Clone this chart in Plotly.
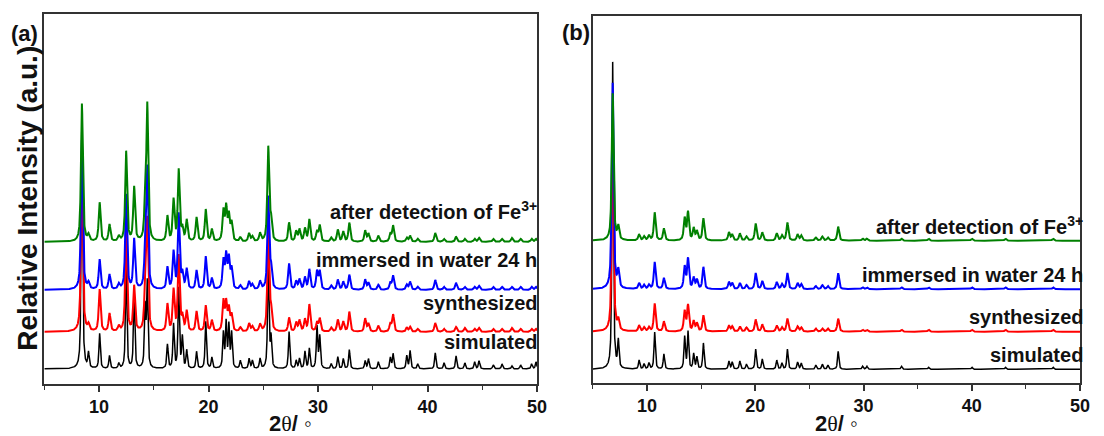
import numpy as np
import plotly.graph_objects as go

# ---------------- data ----------------
# Panel (a): peak positions (2theta, deg) and heights (relative units) of each pattern
pos_a = [8.43, 9.03, 10.05, 10.95, 11.8, 12.47, 13.2, 14.2, 14.4, 16.24, 16.8, 17.27, 17.6, 18.0,
         18.9, 19.74, 20.3, 21.35, 21.6, 21.85, 22.1, 22.9, 23.7, 24.0, 24.7, 25.45, 25.7, 27.35,
         28.0, 28.3, 28.8, 29.2, 29.9, 30.15, 31.2, 31.8, 32.3, 32.85, 34.3, 34.6, 35.5, 36.6,
         36.85, 38.1, 38.4, 39.1, 40.7, 41.5, 42.6, 43.4, 44.3, 44.7, 46.0, 46.8, 47.7, 48.5,
         49.5, 49.9]
sim_a = [263, 15, 35, 13, 5, 105, 75, 60, 85, 24, 44, 80, 31, 18,
         17, 47, 11, 35, 45, 42, 35, 8, 10, 8, 10, 110, 30, 37,
         8, 10, 17, 20, 42, 32, 5, 12, 10, 19, 8, 10, 7, 11,
         15, 13, 18, 5, 16, 6, 13, 6, 7, 8, 4, 5, 3, 4,
         5, 7]
syn_a = [175, 6, 42, 18, 5, 100, 45, 35, 110, 27, 41, 75, 14, 20,
         20, 26, 11, 30, 28, 22, 16, 4, 8, 5, 7, 100, 20, 14,
         9, 11, 12, 27, 9, 13, 4, 12, 10, 20, 13, 8, 6, 8,
         17, 4, 5, 3, 9, 3, 5, 4, 3, 4, 3, 3, 4, 3,
         3, 3]
wat_a = [150, 6, 30, 15, 5, 95, 50, 30, 120, 22, 37, 75, 15, 20,
         19, 33, 11, 28, 33, 30, 20, 4, 8, 5, 8, 92, 20, 26,
         8, 10, 12, 20, 18, 18, 4, 10, 8, 15, 10, 7, 5, 7,
         14, 5, 8, 3, 10, 3, 7, 3, 3, 4, 3, 3, 3, 3,
         3, 3]
fe_a = [138, 6, 39, 17, 5, 90, 54, 30, 135, 25, 41, 71, 12, 21,
        24, 32, 12, 30, 33, 25, 18, 4, 8, 5, 8, 94, 20, 19,
        10, 12, 13, 22, 10, 16, 4, 12, 10, 19, 11, 8, 6, 8,
        16, 4, 6, 3, 9, 3, 5, 3, 3, 4, 3, 3, 4, 3,
        3, 3]
offsets_a = [0, 37, 79, 127]

# Panel (b)
pos_b = [6.82, 7.34, 9.26, 9.72, 10.17, 10.7, 11.55, 13.47, 13.78, 14.3, 14.6, 15.2, 17.56,
         17.86, 18.57, 19.18, 20.03, 20.64, 21.98, 22.46, 22.96, 23.9, 24.24, 25.58, 26.19,
         26.7, 27.65, 29.9, 30.3, 33.5, 36.0, 40.0, 43.1, 47.5]
sim_b = [307, 27, 9, 5, 6, 37, 15, 32, 37, 15, 12, 26, 8,
         7, 8, 5, 20, 10, 9, 6, 20, 7, 6, 4, 5,
         4, 18, 3, 3, 3, 2, 2, 2, 2]
syn_b = [200, 10, 6, 4, 4, 28, 10, 20, 26, 10, 8, 16, 6,
         5, 5, 4, 12, 7, 6, 4, 13, 5, 4, 3, 3,
         3, 13, 2, 2, 2, 2, 2, 2, 2]
wat_b = [206, 17, 6, 4, 4, 27, 11, 22, 30, 11, 9, 22, 7,
         6, 6, 4, 16, 8, 7, 5, 16, 6, 5, 3, 4,
         3, 16, 2, 2, 2, 2, 2, 2, 2]
fe_b = [147, 13, 6, 4, 5, 28, 12, 22, 28, 12, 9, 22, 8,
        6, 7, 4, 17, 8, 7, 5, 18, 6, 5, 3, 4,
        3, 14, 2, 2, 2, 2, 2, 2, 2]
offsets_b = [0, 37.6, 80, 128.6]

labels = ["simulated", "synthesized", "immersed in water 24 h", "after detection of Fe<sup>3+</sup>"]
colors = ["#000000", "#ff0000", "#0000ff", "#008000"]
x_ticks = [10, 20, 30, 40, 50]

# ---------------- build profiles ----------------
tt = np.round(np.arange(5.0, 50.0001, 0.01), 3)


def profile(pos, hts, fwhm, offset):
    y = np.full(tt.shape, float(offset))
    g = fwhm / 2.0
    for p, h in zip(pos, hts):
        lor = 1.0 / (1.0 + ((tt - p) / g) ** 2)
        gau = np.exp(-np.log(2) * ((tt - p) / g) ** 2)
        y += h * (0.7 * lor + 0.3 * gau)
    return y


fig = go.Figure()
series_a = [sim_a, syn_a, wat_a, fe_a]
series_b = [sim_b, syn_b, wat_b, fe_b]
widths = [0.15, 0.2, 0.2, 0.2]
lw = [1.5, 2.0, 2.0, 2.0]
for i in range(4):
    fig.add_trace(go.Scatter(x=tt, y=profile(pos_a, series_a[i], widths[i], offsets_a[i]),
                             mode="lines", line=dict(color=colors[i], width=lw[i]),
                             xaxis="x", yaxis="y", showlegend=False, hoverinfo="skip"))
for i in range(4):
    fig.add_trace(go.Scatter(x=tt, y=profile(pos_b, series_b[i], widths[i], offsets_b[i]),
                             mode="lines", line=dict(color=colors[i], width=lw[i]),
                             xaxis="x2", yaxis="y2", showlegend=False, hoverinfo="skip"))

W, H = 1104, 436
axis_common = dict(showline=True, mirror=True, linecolor="#333333", linewidth=1.5,
                   showgrid=False, zeroline=False)
xcommon = dict(axis_common, range=[5, 50], tickvals=x_ticks, ticks="outside", ticklen=6,
               tickwidth=1.5, tickcolor="#333333",
               tickfont=dict(family="Liberation Sans", size=18, color="#111111", weight="bold"),
               minor=dict(dtick=5, tick0=0, ticks="outside", ticklen=4, tickwidth=1.2,
                          tickcolor="#333333"))
ycommon = dict(axis_common, showticklabels=False, ticks="")

fig.update_layout(
    width=W, height=H, margin=dict(l=0, r=0, t=0, b=0),
    paper_bgcolor="white", plot_bgcolor="white",
    xaxis=dict(xcommon, domain=[44.75 / W, 542 / W], anchor="y"),
    yaxis=dict(ycommon, domain=[(H - 384) / H, (H - 14) / H], range=[-15, 355], anchor="x"),
    xaxis2=dict(xcommon, domain=[598.4 / W, 1090 / W], anchor="y2"),
    yaxis2=dict(ycommon, domain=[(H - 383) / H, (H - 16) / H], range=[-13.7, 353.3], anchor="x2"),
)

ann = []
font_lab = dict(family="Liberation Sans", size=20, color="#111111")
# series labels panel a
for txt, yv in zip(labels, [27, 66, 109, 159]):
    ann.append(dict(x=49.64, y=yv, xref="x", yref="y", text="<b>" + txt + "</b>", showarrow=False,
                    xanchor="right", yanchor="middle", xshift=6, font=font_lab))
for txt, yv in zip(labels, [14.3, 52.3, 94.3, 144.3]):
    ann.append(dict(x=49.43, y=yv, xref="x2", yref="y2", text="<b>" + txt + "</b>", showarrow=False,
                    xanchor="right", yanchor="middle", xshift=11, font=font_lab))
# panel letters
ann.append(dict(x=25 / W, y=(H - 34) / H, xref="paper", yref="paper", text="<b>(a)</b>",
                showarrow=False, xanchor="center", yanchor="middle",
                font=dict(family="Liberation Sans", size=22, color="#111111")))
ann.append(dict(x=581 / W, y=(H - 32) / H, xref="paper", yref="paper", text="<b>(b)</b>",
                showarrow=False, xanchor="center", yanchor="middle",
                font=dict(family="Liberation Sans", size=22, color="#111111")))
# y title
ann.append(dict(x=27 / W, y=(H - 198) / H, xref="paper", yref="paper",
                text="<b>Relative Intensity (a.u.)</b>", textangle=-90, showarrow=False,
                xanchor="center", yanchor="middle",
                font=dict(family="Liberation Sans", size=28, color="#111111")))
# x titles
xt = "<b>2</b><span style='font-family:Liberation Serif'>θ</span><b>/</b> ◦"
for cx in [293, 844]:
    ann.append(dict(x=cx / W, y=(H - 423) / H, xref="paper", yref="paper", text=xt,
                    showarrow=False, xanchor="center", yanchor="middle",
                    font=dict(family="Liberation Sans", size=22, color="#111111")))
fig.update_layout(annotations=ann)

fig.write_html("out.html")
